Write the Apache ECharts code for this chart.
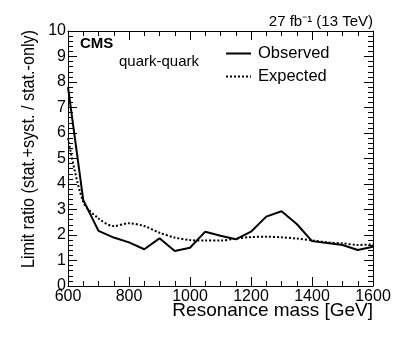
<!DOCTYPE html>
<html>
<head>
<meta charset="utf-8">
<script src="https://cdn.jsdelivr.net/npm/echarts@6/dist/echarts.min.js"></script>
<style>
  html, body { margin: 0; padding: 0; background: #fff; }
  #chart { width: 399px; height: 337px; }
</style>
</head>
<body>
<div id="chart"></div>
<script>
const masses = [600, 650, 700, 750, 800, 850, 900, 950, 1000, 1050, 1100,
  1150, 1200, 1250, 1300, 1350, 1400, 1450, 1500, 1550, 1600]
const observed = [7.8, 3.37, 2.16, 1.9, 1.71, 1.44, 1.87, 1.37, 1.5, 2.13, 1.97,
  1.83, 2.13, 2.72, 2.93, 2.43, 1.76, 1.69, 1.61, 1.41, 1.54]
const expected = [5.8, 3.3, 2.65, 2.35, 2.46, 2.35, 2.09, 1.9, 1.8, 1.78, 1.78,
  1.86, 1.92, 1.93, 1.91, 1.86, 1.79, 1.71, 1.67, 1.61, 1.63]
const seriesNames = ['Observed', 'Expected']

const font = '"Liberation Sans", Arial, sans-serif'
const chart = echarts.init(document.getElementById('chart'))

const xBase = {
  type: 'value', min: 600, max: 1600, interval: 200,
  axisLine: { show: true, onZero: false, lineStyle: { color: '#000', width: 1 } },
  axisTick: { show: true, inside: true, length: 9, lineStyle: { color: '#000' } },
  minorTick: { show: true, splitNumber: 4, length: 5, lineStyle: { color: '#000' } },
  splitLine: { show: false }
}
const yBase = {
  type: 'value', min: 0, max: 10, interval: 1,
  axisLine: { show: true, onZero: false, lineStyle: { color: '#000', width: 1 } },
  axisTick: { show: true, inside: true, length: 9, lineStyle: { color: '#000' } },
  minorTick: { show: true, splitNumber: 5, length: 5, lineStyle: { color: '#000' } },
  splitLine: { show: false }
}

chart.setOption({
  animation: false,
  textStyle: { fontFamily: font },
  grid: { left: 68, right: 26, top: 31, bottom: 51 },
  xAxis: [
    Object.assign({}, xBase, {
      position: 'bottom',
      axisLabel: { color: '#000', fontSize: 16, margin: 3, fontFamily: font, formatter: v => String(v) }
    }),
    Object.assign({}, xBase, { position: 'top', axisLabel: { show: false } })
  ],
  yAxis: [
    Object.assign({}, yBase, {
      position: 'left',
      axisLabel: { color: '#000', fontSize: 16, margin: 2, fontFamily: font }
    }),
    Object.assign({}, yBase, { position: 'right', axisLabel: { show: false } })
  ],
  legend: {
    orient: 'vertical',
    left: 225, top: 45, padding: 0,
    itemWidth: 25, itemHeight: 14, itemGap: 6,
    data: seriesNames,
    itemStyle: { opacity: 0 },
    textStyle: { color: '#000', fontSize: 16.5, fontFamily: font, padding: [0, 0, 0, 2] }
  },
  graphic: [
    { type: 'text', left: 80, top: 36, style: { text: 'CMS', font: 'bold 15px ' + font, fill: '#000' } },
    { type: 'text', left: 119, top: 54, style: { text: 'quark-quark', font: '15px ' + font, fill: '#000' } },
    { type: 'text', right: 26, top: 14, style: { text: '27 fb\u207B\u00B9 (13 TeV)', font: '15px ' + font, fill: '#000' } },
    { type: 'text', right: 26, top: 301, style: { text: 'Resonance mass [GeV]', font: '19px ' + font, fill: '#000' } },
    {
      type: 'text', x: 29, y: 30, rotation: Math.PI / 2, scaleX: 0.9,
      style: { text: 'Limit ratio (stat.+syst. / stat.-only)', font: '18px ' + font, fill: '#000', align: 'right', verticalAlign: 'middle' }
    }
  ],
  series: [
    {
      name: seriesNames[0], type: 'line', symbol: 'none',
      data: masses.map((m, i) => [m, observed[i]]),
      lineStyle: { color: '#000', width: 2 },
      itemStyle: { color: '#000' }
    },
    {
      name: seriesNames[1], type: 'line', symbol: 'none', smooth: 0.3,
      data: masses.map((m, i) => [m, expected[i]]),
      lineStyle: { color: '#000', width: 2, type: [2, 2] },
      itemStyle: { color: '#000' }
    }
  ]
})
</script>
</body>
</html>
